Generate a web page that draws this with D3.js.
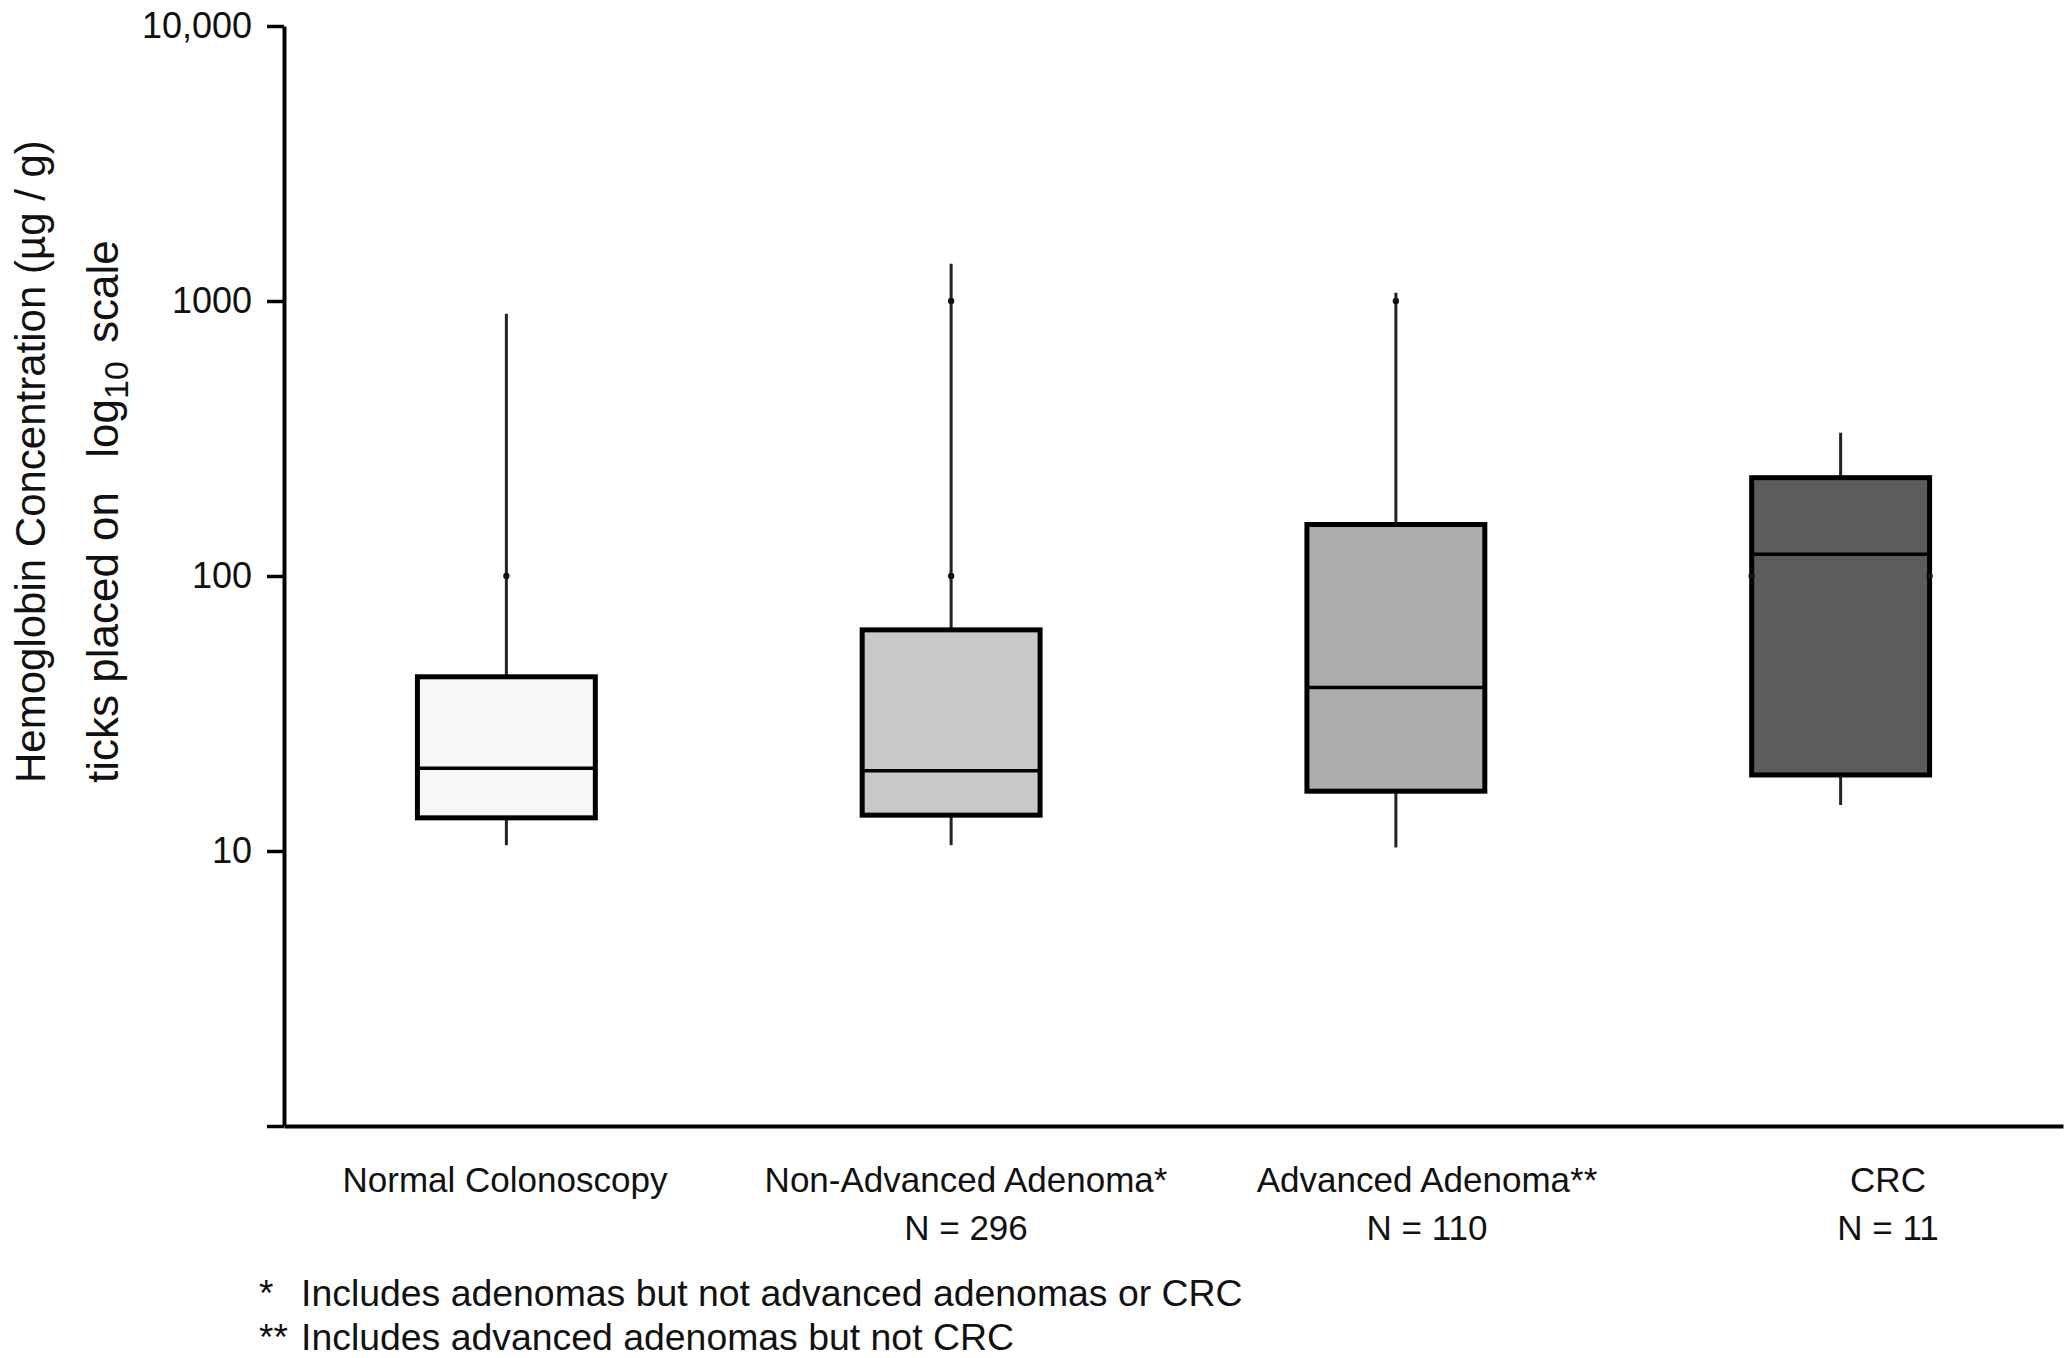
<!DOCTYPE html>
<html>
<head>
<meta charset="utf-8">
<script src="https://cdn.jsdelivr.net/npm/d3@7"></script>
<style>
  html, body { margin: 0; padding: 0; background: #fff; }
  svg { display: block; }
  text { font-family: "Liberation Sans", Arial, Helvetica, sans-serif; fill: #111; }
</style>
</head>
<body>
<svg id="chart" width="2070" height="1358"></svg>
<script>
// ---- data ----
const categories = ["Normal Colonoscopy", "Non-Advanced Adenoma*", "Advanced Adenoma**", "CRC"];
const nLabels = ["", "N = 296", "N = 110", "N = 11"];
const whiskerLow  = [10.5, 10.5, 10.3, 14.7];
const q1          = [13.2, 13.5, 16.5, 18.9];
const median      = [20.0, 19.6, 39.3, 119.9];
const q3          = [43.0, 63.7, 153.9, 227.8];
const whiskerHigh = [898, 1365, 1072, 332];
// small marker dots visible on the chart (category index, value, where)
const dotCategory = [0, 1, 1, 2, 3, 3];
const dotValue    = [100, 100, 1000, 1000, 100, 100];
const dotWhere    = ["center", "center", "center", "center", "left", "right"];
// axis ticks
const tickValues = [1, 10, 100, 1000, 10000];
const tickLabels = ["", "10", "100", "1000", "10,000"];
const footnoteMarks = ["*", "**"];
const footnoteTexts = ["Includes adenomas but not advanced adenomas or CRC",
                       "Includes advanced adenomas but not CRC"];

// ---- styles ----
const boxFills = ["#f7f7f7", "#c8c8c8", "#adadad", "#5c5c5c"];

const svg = d3.select("#chart");

const y = d3.scaleLog().domain([1, 10000]).range([1126, 26]);
const x = d3.scaleBand().domain(categories).range([284, 2063])
  .paddingInner(0.6).paddingOuter(0.3);
const xLabel = d3.scalePoint().domain(categories).range([505, 1888]);

// y axis
const yAxis = d3.axisLeft(y)
  .tickValues(tickValues)
  .tickSize(17)
  .tickSizeOuter(0)
  .tickPadding(15)
  .tickFormat((d) => tickLabels[tickValues.indexOf(d)]);
const gy = svg.append("g").attr("transform", "translate(284,0)").call(yAxis);
gy.select(".domain").attr("stroke", "#000").attr("stroke-width", 4);
gy.selectAll(".tick line").attr("stroke", "#000").attr("stroke-width", 3.5);
gy.selectAll(".tick text")
  .style("font-family", "'Liberation Sans', Arial, sans-serif")
  .style("font-size", "36px").attr("fill", "#111");

// x axis (line only)
const xAxis = d3.axisBottom(x).tickSize(0).tickSizeOuter(0).tickFormat("");
const gx = svg.append("g").attr("transform", "translate(0,1126)").call(xAxis);
gx.select(".domain").attr("stroke", "#000").attr("stroke-width", 4);

// boxes
const data = categories.map((c, i) => ({
  cat: c, i, lo: whiskerLow[i], q1: q1[i], med: median[i], q3: q3[i], hi: whiskerHigh[i]
}));
const bw = x.bandwidth();
const g = svg.append("g");
const box = g.selectAll("g.box").data(data).join("g").attr("class", "box");

box.append("line")
  .attr("x1", (d) => x(d.cat) + bw / 2).attr("x2", (d) => x(d.cat) + bw / 2)
  .attr("y1", (d) => y(d.hi)).attr("y2", (d) => y(d.q3))
  .attr("stroke", "#222").attr("stroke-width", 3);
box.append("line")
  .attr("x1", (d) => x(d.cat) + bw / 2).attr("x2", (d) => x(d.cat) + bw / 2)
  .attr("y1", (d) => y(d.q1)).attr("y2", (d) => y(d.lo))
  .attr("stroke", "#222").attr("stroke-width", 3);
box.append("rect")
  .attr("x", (d) => x(d.cat)).attr("width", bw)
  .attr("y", (d) => y(d.q3)).attr("height", (d) => y(d.q1) - y(d.q3))
  .attr("fill", (d) => boxFills[d.i])
  .attr("stroke", "#000").attr("stroke-width", 5);
box.append("line")
  .attr("x1", (d) => x(d.cat)).attr("x2", (d) => x(d.cat) + bw)
  .attr("y1", (d) => y(d.med)).attr("y2", (d) => y(d.med))
  .attr("stroke", "#000").attr("stroke-width", 3.5);

// marker dots
const dots = dotCategory.map((c, k) => ({ c, v: dotValue[k], w: dotWhere[k] }));
g.selectAll("circle.dot").data(dots).join("circle").attr("class", "dot")
  .attr("cx", (d) => {
    const x0 = x(categories[d.c]);
    return d.w === "left" ? x0 : d.w === "right" ? x0 + bw : x0 + bw / 2;
  })
  .attr("cy", (d) => y(d.v))
  .attr("r", 3.2).attr("fill", "#111");

// x labels
const lab = svg.append("g");
lab.selectAll("text.cat").data(categories).join("text").attr("class", "cat")
  .attr("x", (d) => xLabel(d)).attr("y", 1192)
  .attr("text-anchor", "middle").style("font-size", "35px")
  .text((d) => d);
lab.selectAll("text.n").data(categories).join("text").attr("class", "n")
  .attr("x", (d) => xLabel(d)).attr("y", 1240)
  .attr("text-anchor", "middle").style("font-size", "35px")
  .text((d, i) => nLabels[i]);

// y title
svg.append("text")
  .attr("transform", "translate(45,783) rotate(-90)")
  .attr("text-anchor", "start").style("font-size", "42px")
  .text("Hemoglobin Concentration (\u00b5g / g)");
const t2 = svg.append("text")
  .attr("transform", "translate(118,783) rotate(-90)")
  .attr("text-anchor", "start").style("font-size", "44px")
  .style("white-space", "pre");
t2.append("tspan").text("ticks placed on ");
t2.append("tspan").attr("dx", 22).text("log");
t2.append("tspan").attr("dy", 10).style("font-size", "34px").text("10");
t2.append("tspan").attr("dy", -10).attr("dx", 6).text(" scale");

// footnotes
const fn = svg.append("g");
footnoteMarks.forEach((m, i) => {
  fn.append("text").attr("x", 259).attr("y", 1306 + i * 44)
    .style("font-size", "37px").text(m);
  fn.append("text").attr("x", 301).attr("y", 1306 + i * 44)
    .style("font-size", "37.4px").text(footnoteTexts[i]);
});
</script>
</body>
</html>
